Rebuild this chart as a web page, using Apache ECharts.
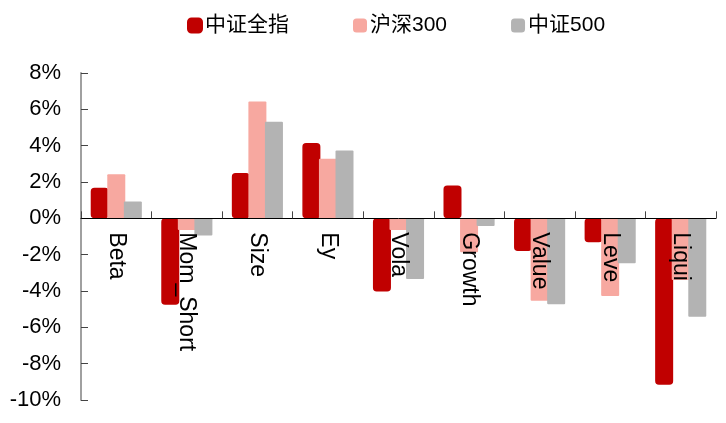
<!DOCTYPE html>
<html>
<head>
<meta charset="utf-8">
<script src="https://cdn.jsdelivr.net/npm/echarts@6/dist/echarts.min.js"></script>
<style>
  html, body { margin: 0; padding: 0; background: #fff; }
  #chart { width: 726px; height: 423px; }
</style>
</head>
<body>
<div id="chart"></div>
<script>
// 因子暴露（%）
const factors = ['Beta', 'Mom_Short', 'Size', 'Ey', 'Vola', 'Growth', 'Value', 'Leve', 'Liqui'];
const seriesNames = ['中证全指', '沪深300', '中证500'];
const allIndex = [1.68, -4.76, 2.5, 4.14, -4.03, 1.81, -1.8, -1.32, -9.16];
const hs300 = [2.43, -0.64, 6.43, 3.28, -0.64, -1.87, -4.53, -4.27, -3.39];
const zz500 = [0.93, -0.95, 5.31, 3.74, -3.34, -0.42, -4.73, -2.47, -5.42];

const colors = ['#C00000', '#F7A8A0', '#B3B3B3'];
const fontFamily = '"Liberation Sans", Arial, "Noto Sans CJK SC", sans-serif';

const chart = echarts.init(document.getElementById('chart'));

const option = {
  animation: false,
  textStyle: { fontFamily: fontFamily },
  legend: {
    data: seriesNames,
    top: 10,
    left: 182,
    itemWidth: 14,
    itemHeight: 14,
    itemGap: 64,
    textStyle: { color: '#000', fontSize: 21, fontFamily: fontFamily, padding: [0, 0, 0, -2] }
  },
  grid: {
    left: 81,
    right: 10,
    top: 73,
    bottom: 23,
    containLabel: false,
    outerBoundsMode: 'none'
  },
  xAxis: {
    type: 'category',
    data: factors,
    offset: 0,
    z: 10,
    axisLine: { onZero: false, lineStyle: { color: '#000', width: 1 } },
    axisTick: { show: true, inside: true, length: 7, lineStyle: { color: '#444' } },
    axisLabel: {
      rotate: -90,
      margin: 14,
      color: '#000',
      fontSize: 23,
      interval: 0,
      hideOverlap: false
    }
  },
  yAxis: {
    type: 'value',
    min: -10,
    max: 8,
    interval: 2,
    axisLine: { show: true, lineStyle: { color: '#A0A0A0', width: 2 } },
    axisTick: { show: true, inside: true, length: 7, lineStyle: { color: '#444' } },
    splitLine: { show: false },
    axisLabel: {
      formatter: '{value}%',
      color: '#000',
      fontSize: 22,
      margin: 20
    }
  },
  series: [
    {
      name: seriesNames[0],
      type: 'bar',
      data: allIndex,
      barWidth: 18,
      barGap: '-8%',
      itemStyle: { color: colors[0], borderColor: colors[0], borderWidth: 1.5, borderRadius: 3 }
    },
    {
      name: seriesNames[1],
      type: 'bar',
      data: hs300,
      barWidth: 18,
      barGap: '-8%',
      itemStyle: { color: colors[1], borderRadius: 1 }
    },
    {
      name: seriesNames[2],
      type: 'bar',
      data: zz500,
      barWidth: 18,
      barGap: '-8%',
      itemStyle: { color: colors[2], borderRadius: 1 }
    }
  ]
};

chart.setOption(option);

// 把 x 轴（含标签）移到 0 值位置
const zeroY = chart.convertToPixel({ yAxisIndex: 0 }, 0);
const bottomY = chart.convertToPixel({ yAxisIndex: 0 }, -10);
chart.setOption({ xAxis: { offset: zeroY - bottomY } });
</script>
</body>
</html>
